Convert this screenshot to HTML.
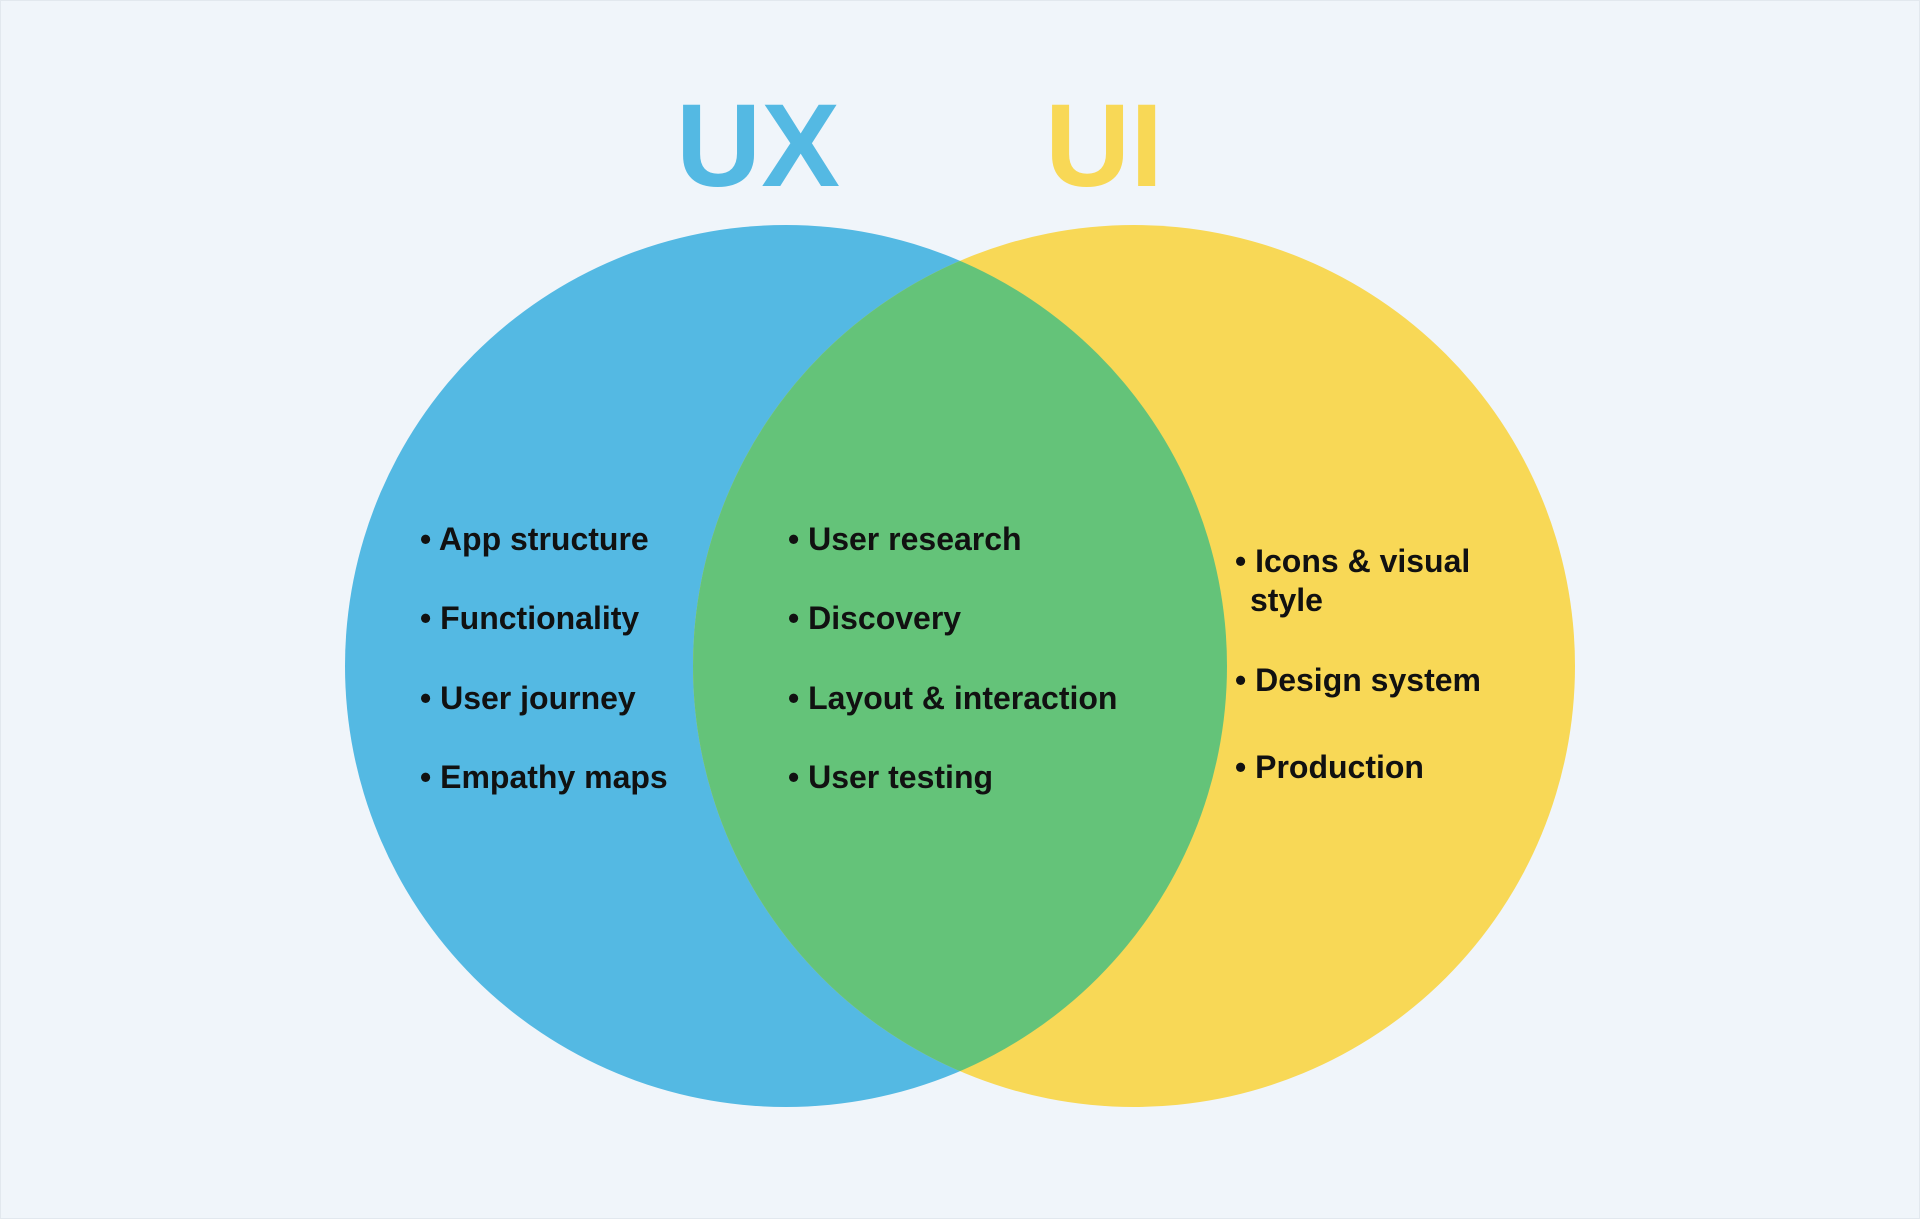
<!DOCTYPE html>
<html><head><meta charset="utf-8"><style>
html,body{margin:0;padding:0;background:#F0F5FA;}
svg{display:block}
</style></head><body>
<svg width="1920" height="1219" viewBox="0 0 1920 1219" xmlns="http://www.w3.org/2000/svg">
<rect x="0" y="0" width="1920" height="1219" fill="#F0F5FA"/>
<rect x="0.5" y="0.5" width="1919" height="1218" fill="none" stroke="#E2E8EE" stroke-width="1"/>
<defs>
<clipPath id="lc"><circle cx="786" cy="666" r="441"/></clipPath>
</defs>
<circle cx="786" cy="666" r="441" fill="#54B9E3"/>
<circle cx="1134" cy="666" r="441" fill="#F8D856"/>
<circle cx="1134" cy="666" r="441" fill="#64C379" clip-path="url(#lc)"/>
<g font-family="Liberation Sans, sans-serif" font-weight="bold" font-size="118">
<text x="676" y="186" fill="#54B9E3">UX</text>
<text x="1045" y="186" fill="#F8D856">UI</text>
</g>
<g font-family="Liberation Sans, sans-serif" font-weight="bold" font-size="32" fill="#111">
<text x="420" y="550">• App structure</text>
<text x="420" y="629">• Functionality</text>
<text x="420" y="709">• User journey</text>
<text x="420" y="788">• Empathy maps</text>
<text x="788" y="550">• User research</text>
<text x="788" y="629">• Discovery</text>
<text x="788" y="709">• Layout &amp; interaction</text>
<text x="788" y="788">• User testing</text>
<text x="1235" y="572">• Icons &amp; visual</text>
<text x="1250" y="611">style</text>
<text x="1235" y="691">• Design system</text>
<text x="1235" y="778">• Production</text>
</g>
</svg>
</body></html>
